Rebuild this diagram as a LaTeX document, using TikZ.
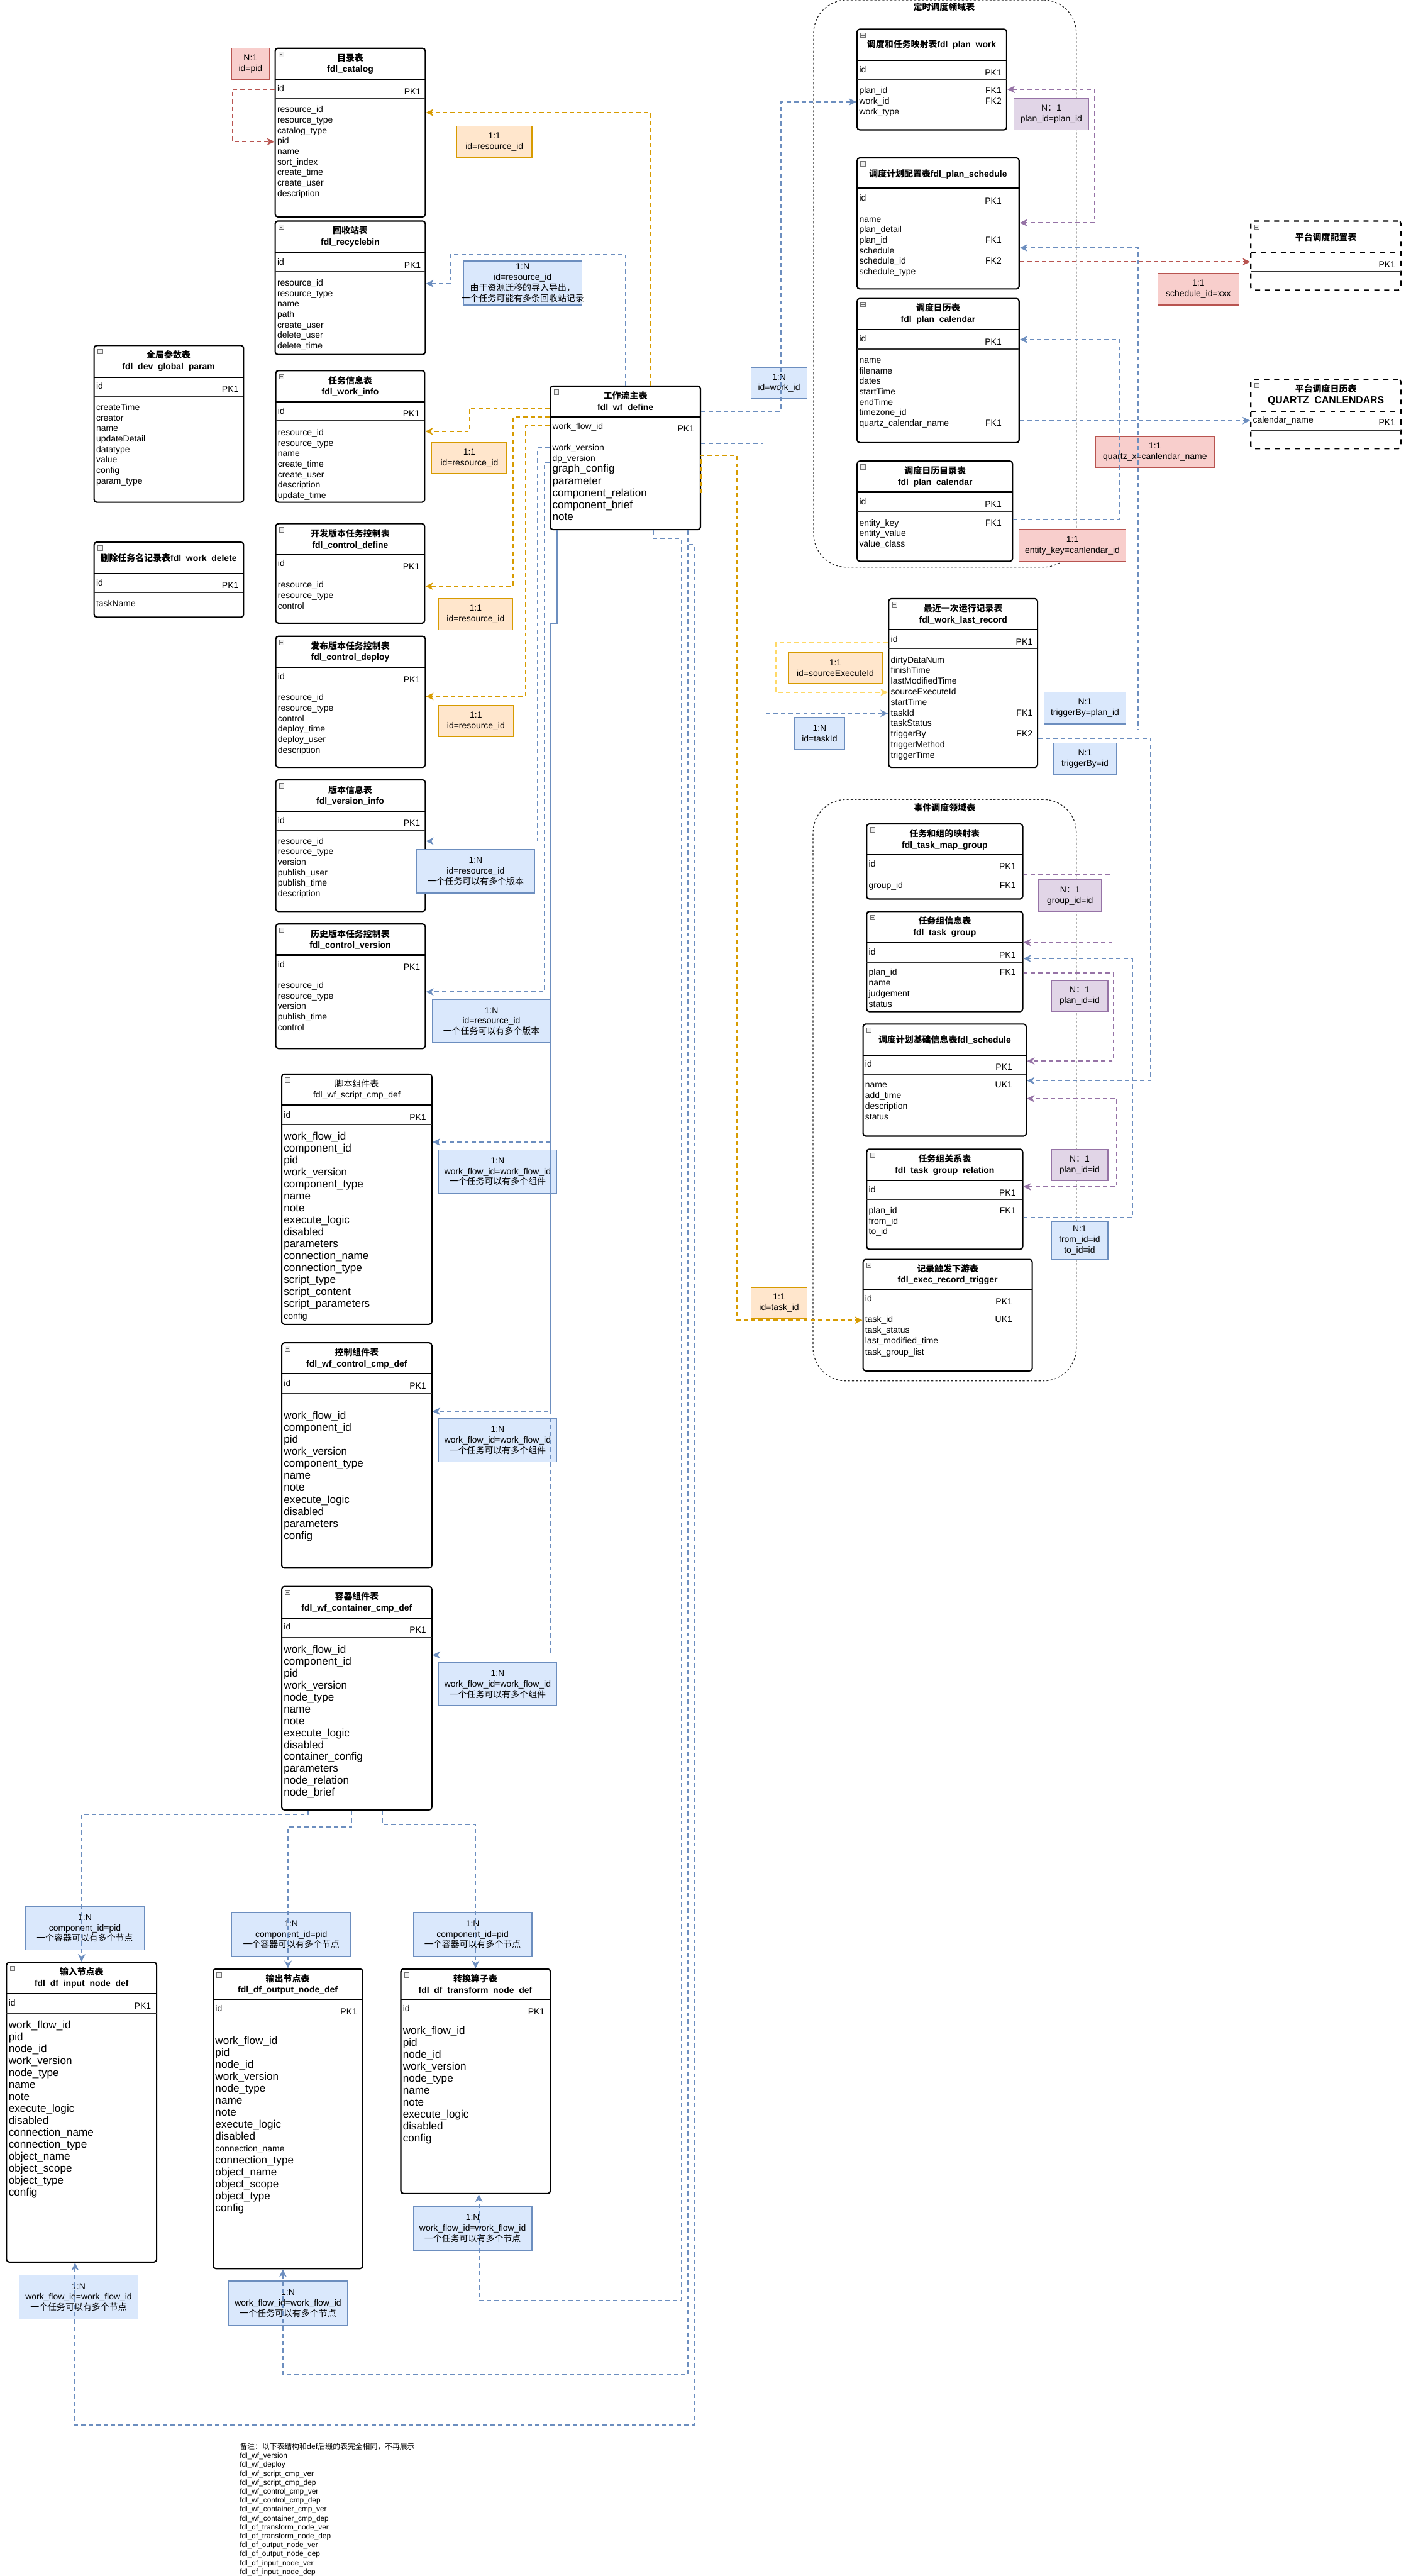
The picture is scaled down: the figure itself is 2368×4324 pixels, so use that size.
\documentclass[tikz,border=0pt]{standalone}
\usepackage{fontspec}
\setmainfont{Liberation Sans}
\newfontfamily\cjk{Noto Sans CJK SC}
\usetikzlibrary{positioning,arrows.meta,fit}

\definecolor{eblue}{HTML}{6C8EBF}
\definecolor{eblueF}{HTML}{DAE8FC}
\definecolor{eorg}{HTML}{D79B00}
\definecolor{eorgF}{HTML}{FFE6CC}
\definecolor{ered}{HTML}{B85450}
\definecolor{eredF}{HTML}{F8CECC}
\definecolor{epur}{HTML}{9673A6}
\definecolor{epurF}{HTML}{E1D5E7}
\definecolor{eyel}{HTML}{FFD966}

\newcommand{\fsm}{\fontsize{5.3pt}{6.4pt}\selectfont}
\newcommand{\fbig}{\fontsize{6.5pt}{7.2pt}\selectfont}
\newcommand{\fttl}{\fontsize{5.3pt}{6.7pt}\selectfont}
\newcommand{\fnote}{\fontsize{4.5pt}{5.4pt}\selectfont}

% table frame: [opt] name, x1, y1, x2, y2, header line, id line
\newcommand{\ertbl}[8][]{%
  \coordinate (#2-nw) at (#3,#4);
  \coordinate (#2-se) at (#5,#6);
  \node[tbl, #1, fit=(#2-nw)(#2-se)] (#2) {};
  \draw[hdr, #1] (#3,#7) -- (#5,#7);
  \draw[idl] (#3,#8) -- (#5,#8);
  \draw[icn] ([shift={(6,6)}]#2-nw) rectangle ++(8,8);
  \draw[black!60, line width=0.3pt] ([shift={(7.5,10)}]#2-nw) -- ++(5,0);
}
% field rows: [style] name, x, first y, step, list
\newcommand{\ertrows}[6][fld]{%
  \foreach \rr [count=\nn from 0] in {#6}{%
    \node[#1, anchor=west] (#2-\nn) at (#3,{#4+\nn*#5}) {\rr};}%
}
% relation label: style, name, x1, y1, x2, y2, text
\newcommand{\ertlbl}[7]{%
  \coordinate (#2-nw) at (#3,#4);
  \coordinate (#2-se) at (#5,#6);
  \node[#1, fit=(#2-nw)(#2-se)] (#2) {};
  \node[lt] (#2-t) at (#2.center) {#7};
}

\begin{document}
\begin{tikzpicture}[
  x=0.36pt, y=-0.36pt,
  tbl/.style={draw, fill=white, line width=0.8pt, rounded corners=1.6pt, inner sep=0pt},
  hdr/.style={line width=0.8pt},
  idl/.style={line width=0.5pt, black!80},
  icn/.style={draw=black!55, fill=black!6, line width=0.3pt},
  ttl/.style={font=\fttl\bfseries, align=center, inner sep=0pt},
  ttlr/.style={font=\fttl, align=center, inner sep=0pt},
  fld/.style={font=\fsm, inner sep=0pt, text height=3.9pt, text depth=1.1pt},
  fldb/.style={font=\fbig, inner sep=0pt, text height=4.8pt, text depth=1.4pt},
  lt/.style={font=\fsm, align=center, inner sep=0pt},
  lblB/.style={draw=eblue, fill=eblueF, line width=0.5pt, inner sep=0pt},
  lblO/.style={draw=eorg, fill=eorgF, line width=0.5pt, inner sep=0pt},
  lblR/.style={draw=ered, fill=eredF, line width=0.5pt, inner sep=0pt},
  lblP/.style={draw=epur, fill=epurF, line width=0.5pt, inner sep=0pt},
  grp/.style={draw=black!85, line width=0.45pt, dash pattern=on 1.2pt off 1.2pt,
              rounded corners=20pt, inner sep=0pt},
  gttl/.style={font=\fsm\bfseries, inner sep=0pt},
  con/.style={line width=0.7pt, dash pattern=on 2.6pt off 1.9pt,
              -{Stealth[length=4.6pt,width=4.4pt,inset=1.3pt]}},
  twoway/.style={{Stealth[length=4.6pt,width=4.4pt,inset=1.3pt]}-{Stealth[length=4.6pt,width=4.4pt,inset=1.3pt]}},
  cB/.style={con, draw=eblue}, cO/.style={con, draw=eorg}, cR/.style={con, draw=ered},
  cP/.style={con, draw=epur}, cY/.style={con, draw=eyel},
]
\useasboundingbox (0,0) rectangle (2368,4324);

% domain frames
\coordinate (dsch-nw) at (1366,0); \coordinate (dsch-se) at (1807,952);
\node[grp, fit=(dsch-nw)(dsch-se)] (dsch) {};
\node[gttl] (dsch-t) at (1585,12) {\cjk 定时调度领域表};
\coordinate (devt-nw) at (1365,1342); \coordinate (devt-se) at (1807,2318);
\node[grp, fit=(devt-nw)(devt-se)] (devt) {};
\node[gttl] (devt-t) at (1586,1356) {\cjk 事件调度领域表};

% ---- tables, left column
\ertbl{cat}{462}{81}{714}{364}{133}{165}
\node[ttl] (cat-t) at (588,107) {{\cjk 目录表}\\fdl\_catalog};
\node[fld, anchor=west] (cat-id) at (465,150) {id};
\node[fld, anchor=east] (cat-pk) at (707,155) {PK1};
\ertrows{cat}{465}{185}{17.6}{resource\_id, resource\_type, catalog\_type, pid, name, sort\_index, create\_time, create\_user, description}

\ertbl{rec}{462}{371}{714}{595}{424}{456}
\node[ttl] (rec-t) at (588,397) {{\cjk 回收站表}\\fdl\_recyclebin};
\node[fld, anchor=west] (rec-id) at (465,441) {id};
\node[fld, anchor=east] (rec-pk) at (707,446) {PK1};
\ertrows{rec}{465}{476}{17.6}{resource\_id, resource\_type, name, path, create\_user, delete\_user, delete\_time}

\ertbl{gp}{158}{580}{409}{843}{633}{665}
\node[ttl] (gp-t) at (283,606) {{\cjk 全局参数表}\\fdl\_dev\_global\_param};
\node[fld, anchor=west] (gp-id) at (161,649) {id};
\node[fld, anchor=east] (gp-pk) at (401,654) {PK1};
\ertrows{gp}{161}{685}{17.6}{createTime, creator, name, updateDetail, datatype, value, config, param\_type}

\ertbl{del}{158}{910}{409}{1036}{963}{995}
\node[ttl] (del-t) at (283,937) {{\cjk 删除任务名记录表}fdl\_work\_delete};
\node[fld, anchor=west] (del-id) at (161,979) {id};
\node[fld, anchor=east] (del-pk) at (401,984) {PK1};
\ertrows{del}{161}{1014}{17.6}{taskName}

\ertbl{wi}{463}{622}{713}{843}{675}{706}
\node[ttl] (wi-t) at (588,648) {{\cjk 任务信息表}\\fdl\_work\_info};
\node[fld, anchor=west] (wi-id) at (466,691) {id};
\node[fld, anchor=east] (wi-pk) at (705,696) {PK1};
\ertrows{wi}{466}{727}{17.6}{resource\_id, resource\_type, name, create\_time, create\_user, description, update\_time}

\ertbl{cd}{463}{879}{713}{1046}{931}{963}
\node[ttl] (cd-t) at (588,905) {{\cjk 开发版本任务控制表}\\fdl\_control\_define};
\node[fld, anchor=west] (cd-id) at (466,947) {id};
\node[fld, anchor=east] (cd-pk) at (705,952) {PK1};
\ertrows{cd}{466}{983}{17.6}{resource\_id, resource\_type, control}

\ertbl{cdp}{463}{1068}{714}{1288}{1120}{1153}
\node[ttl] (cdp-t) at (588,1094) {{\cjk 发布版本任务控制表}\\fdl\_control\_deploy};
\node[fld, anchor=west] (cdp-id) at (466,1137) {id};
\node[fld, anchor=east] (cdp-pk) at (706,1142) {PK1};
\ertrows{cdp}{466}{1172}{17.6}{resource\_id, resource\_type, control, deploy\_time, deploy\_user, description}

\ertbl{vi}{463}{1309}{714}{1530}{1362}{1394}
\node[ttl] (vi-t) at (588,1335) {{\cjk 版本信息表}\\fdl\_version\_info};
\node[fld, anchor=west] (vi-id) at (466,1378) {id};
\node[fld, anchor=east] (vi-pk) at (706,1383) {PK1};
\ertrows{vi}{466}{1413}{17.6}{resource\_id, resource\_type, version, publish\_user, publish\_time, description}

\ertbl{cv}{463}{1551}{714}{1760}{1603}{1635}
\node[ttl] (cv-t) at (588,1577) {{\cjk 历史版本任务控制表}\\fdl\_control\_version};
\node[fld, anchor=west] (cv-id) at (466,1620) {id};
\node[fld, anchor=east] (cv-pk) at (706,1624) {PK1};
\ertrows{cv}{466}{1655}{17.6}{resource\_id, resource\_type, version, publish\_time, control}

% ---- workflow main table
\ertbl{wf}{924}{648}{1176}{889}{700}{732}
\node[ttl] (wf-t) at (1050,674) {{\cjk 工作流主表}\\fdl\_wf\_define};
\node[fld, anchor=west] (wf-id) at (927,717) {work\_flow\_id};
\node[fld, anchor=east] (wf-pk) at (1166,721) {PK1};
\ertrows{wf}{927}{752}{18}{work\_version, dp\_version}
\ertrows[fldb]{wfb}{927}{788}{20.2}{graph\_config, parameter, component\_relation, component\_brief, note}

% ---- component tables
\ertbl{scr}{473}{1803}{725}{2223}{1855}{1888}
\node[ttlr] (scr-t) at (599,1829) {{\cjk 脚本组件表}\\fdl\_wf\_script\_cmp\_def};
\node[fld, anchor=west] (scr-id) at (476,1872) {id};
\node[fld, anchor=east] (scr-pk) at (716,1877) {PK1};
\ertrows[fldb]{scr}{476}{1909}{20}{work\_flow\_id, component\_id, pid, work\_version, component\_type, name, note, execute\_logic, disabled, parameters, connection\_name, connection\_type, script\_type, script\_content, script\_parameters}
\node[fld, anchor=west] (scr-cfg) at (476,2210) {config};

\ertbl{ctl}{473}{2254}{725}{2632}{2306}{2339}
\node[ttl] (ctl-t) at (599,2280) {{\cjk 控制组件表}\\fdl\_wf\_control\_cmp\_def};
\node[fld, anchor=west] (ctl-id) at (476,2323) {id};
\node[fld, anchor=east] (ctl-pk) at (716,2328) {PK1};
\ertrows[fldb]{ctl}{476}{2377}{20.2}{work\_flow\_id, component\_id, pid, work\_version, component\_type, name, note, execute\_logic, disabled, parameters, config}

\ertbl{cnt}{473}{2663}{725}{3038}{2716}{2749}
\node[ttl] (cnt-t) at (599,2690) {{\cjk 容器组件表}\\fdl\_wf\_container\_cmp\_def};
\node[fld, anchor=west] (cnt-id) at (476,2732) {id};
\node[fld, anchor=east] (cnt-pk) at (716,2737) {PK1};
\ertrows[fldb]{cnt}{476}{2770}{20}{work\_flow\_id, component\_id, pid, work\_version, node\_type, name, note, execute\_logic, disabled, container\_config, parameters, node\_relation, node\_brief}

% ---- node tables
\ertbl{inp}{11}{3294}{263}{3797}{3346}{3379}
\node[ttl] (inp-t) at (137,3320) {{\cjk 输入节点表}\\fdl\_df\_input\_node\_def};
\node[fld, anchor=west] (inp-id) at (14,3363) {id};
\node[fld, anchor=east] (inp-pk) at (254,3368) {PK1};
\ertrows[fldb]{inp}{14}{3400}{20.1}{work\_flow\_id, pid, node\_id, work\_version, node\_type, name, note, execute\_logic, disabled, connection\_name, connection\_type, object\_name, object\_scope, object\_type, config}

\ertbl{outp}{358}{3305}{609}{3808}{3356}{3389}
\node[ttl] (outp-t) at (483,3331) {{\cjk 输出节点表}\\fdl\_df\_output\_node\_def};
\node[fld, anchor=west] (outp-id) at (361,3373) {id};
\node[fld, anchor=east] (outp-pk) at (600,3378) {PK1};
\ertrows[fldb]{outp}{361}{3427}{20}{work\_flow\_id, pid, node\_id, work\_version, node\_type, name, note, execute\_logic, disabled, {\fsm connection\_name}, connection\_type, object\_name, object\_scope, object\_type, config}

\ertbl{trf}{673}{3305}{924}{3682}{3356}{3389}
\node[ttl] (trf-t) at (798,3331) {{\cjk 转换算子表}\\fdl\_df\_transform\_node\_def};
\node[fld, anchor=west] (trf-id) at (676,3373) {id};
\node[fld, anchor=east] (trf-pk) at (915,3378) {PK1};
\ertrows[fldb]{trf}{676}{3410}{20}{work\_flow\_id, pid, node\_id, work\_version, node\_type, name, note, execute\_logic, disabled, config}

% ---- schedule domain
\ertbl{pw}{1439}{49}{1690}{218}{101}{134}
\node[ttl] (pw-t) at (1564,75) {{\cjk 调度和任务映射表}fdl\_plan\_work};
\node[fld, anchor=west] (pw-id) at (1442,118) {id};
\node[fld, anchor=east] (pw-pk) at (1682,123) {PK1};
\ertrows{pw}{1442}{153}{18}{plan\_id, work\_id, work\_type}
\node[fld, anchor=east] (pw-fk1) at (1682,153) {FK1};
\node[fld, anchor=east] (pw-fk2) at (1682,171) {FK2};

\ertbl{ps}{1439}{265}{1711}{485}{316}{349}
\node[ttl] (ps-t) at (1575,292) {{\cjk 调度计划配置表}fdl\_plan\_schedule};
\node[fld, anchor=west] (ps-id) at (1442,333) {id};
\node[fld, anchor=east] (ps-pk) at (1682,339) {PK1};
\ertrows{ps}{1442}{369}{17.6}{name, plan\_detail, plan\_id, schedule, schedule\_id, schedule\_type}
\node[fld, anchor=east] (ps-fk1) at (1682,404) {FK1};
\node[fld, anchor=east] (ps-fk2) at (1682,439) {FK2};

\ertbl{pc}{1439}{501}{1711}{743}{553}{586}
\node[ttl] (pc-t) at (1575,527) {{\cjk 调度日历表}\\fdl\_plan\_calendar};
\node[fld, anchor=west] (pc-id) at (1442,570) {id};
\node[fld, anchor=east] (pc-pk) at (1682,575) {PK1};
\ertrows{pc}{1442}{606}{17.5}{name, filename, dates, startTime, endTime, timezone\_id, quartz\_calendar\_name}
\node[fld, anchor=east] (pc-fk1) at (1682,711) {FK1};

\ertbl{pcd}{1439}{774}{1700}{942}{826}{859}
\node[ttl] (pcd-t) at (1570,800) {{\cjk 调度日历目录表}\\fdl\_plan\_calendar};
\node[fld, anchor=west] (pcd-id) at (1442,843) {id};
\node[fld, anchor=east] (pcd-pk) at (1682,848) {PK1};
\ertrows{pcd}{1442}{879}{17.5}{entity\_key, entity\_value, value\_class}
\node[fld, anchor=east] (pcd-fk1) at (1682,879) {FK1};

\ertbl[dashed]{psc}{2100}{371}{2352}{487}{424}{456}
\node[ttl] (psc-t) at (2226,398) {\cjk 平台调度配置表};
\node[fld, anchor=east] (psc-pk) at (2343,445) {PK1};

\ertbl[dashed]{qz}{2100}{637}{2352}{753}{690}{722}
\node[ttl] (qz-t) at (2226,663) {{\cjk 平台调度日历表}\\{\fontsize{6pt}{7pt}\selectfont QUARTZ\_CANLENDARS}};
\node[fld, anchor=west] (qz-0) at (2103,706) {calendar\_name};
\node[fld, anchor=east] (qz-pk) at (2343,710) {PK1};

\ertbl{lr}{1492}{1005}{1742}{1288}{1057}{1089}
\node[ttl] (lr-t) at (1617,1031) {{\cjk 最近一次运行记录表}\\fdl\_work\_last\_record};
\node[fld, anchor=west] (lr-id) at (1495,1074) {id};
\node[fld, anchor=east] (lr-pk) at (1734,1079) {PK1};
\ertrows{lr}{1495}{1109}{17.7}{dirtyDataNum, finishTime, lastModifiedTime, sourceExecuteId, startTime, taskId, taskStatus, triggerBy, triggerMethod, triggerTime}
\node[fld, anchor=east] (lr-fk1) at (1734,1197.5) {FK1};
\node[fld, anchor=east] (lr-fk2) at (1734,1233) {FK2};

% ---- event domain
\ertbl{tmg}{1455}{1383}{1717}{1509}{1435}{1467}
\node[ttl] (tmg-t) at (1586,1409) {{\cjk 任务和组的映射表}\\fdl\_task\_map\_group};
\node[fld, anchor=west] (tmg-id) at (1458,1451) {id};
\node[fld, anchor=east] (tmg-pk) at (1706,1456) {PK1};
\ertrows{tmg}{1458}{1487}{18}{group\_id}
\node[fld, anchor=east] (tmg-fk1) at (1706,1487) {FK1};

\ertbl{tg}{1455}{1530}{1717}{1698}{1582}{1615}
\node[ttl] (tg-t) at (1586,1556) {{\cjk 任务组信息表}\\fdl\_task\_group};
\node[fld, anchor=west] (tg-id) at (1458,1599) {id};
\node[fld, anchor=east] (tg-pk) at (1706,1604) {PK1};
\ertrows{tg}{1458}{1633}{18}{plan\_id, name, judgement, status}
\node[fld, anchor=east] (tg-fk1) at (1706,1633) {FK1};

\ertbl{sch}{1449}{1719}{1723}{1907}{1771}{1804}
\node[ttl] (sch-t) at (1586,1745) {{\cjk 调度计划基础信息表}fdl\_schedule};
\node[fld, anchor=west] (sch-id) at (1452,1787) {id};
\node[fld, anchor=east] (sch-pk) at (1700,1792) {PK1};
\ertrows{sch}{1452}{1822}{18}{name, add\_time, description, status}
\node[fld, anchor=east] (sch-uk1) at (1700,1822) {UK1};

\ertbl{tgr}{1455}{1929}{1717}{2097}{1981}{2014}
\node[ttl] (tgr-t) at (1586,1955) {{\cjk 任务组关系表}\\fdl\_task\_group\_relation};
\node[fld, anchor=west] (tgr-id) at (1458,1998) {id};
\node[fld, anchor=east] (tgr-pk) at (1706,2003) {PK1};
\ertrows{tgr}{1458}{2033}{17.5}{plan\_id, from\_id, to\_id}
\node[fld, anchor=east] (tgr-fk1) at (1706,2033) {FK1};

\ertbl{ert}{1449}{2114}{1733}{2301}{2164}{2197}
\node[ttl] (ert-t) at (1591,2139) {{\cjk 记录触发下游表}\\fdl\_exec\_record\_trigger};
\node[fld, anchor=west] (ert-id) at (1452,2181) {id};
\node[fld, anchor=east] (ert-pk) at (1700,2186) {PK1};
\ertrows{ert}{1452}{2216}{18}{task\_id, task\_status, last\_modified\_time, task\_group\_list}
\node[fld, anchor=east] (ert-uk1) at (1700,2216) {UK1};

% ---- relation labels
\ertlbl{lblR}{lpid}{389}{81}{452}{134}{N:1\\id=pid}
\ertlbl{lblO}{lcat}{767}{212}{893}{265}{1:1\\id=resource\_id}
\ertlbl{lblB}{lrec}{778}{438}{977}{512}{1:N\\id=resource\_id\\{\cjk 由于资源迁移的导入导出，}\\{\cjk 一个任务可能有多条回收站记录}}
\ertlbl{lblO}{lwi}{725}{743}{851}{795}{1:1\\id=resource\_id}
\ertlbl{lblO}{lcd}{736}{1005}{861}{1057}{1:1\\id=resource\_id}
\ertlbl{lblO}{lcdp}{736}{1184}{862}{1236}{1:1\\id=resource\_id}
\ertlbl{lblB}{lvi}{699}{1426}{898}{1499}{1:N\\id=resource\_id\\{\cjk 一个任务可以有多个版本}}
\ertlbl{lblB}{lcv}{726}{1678}{924}{1750}{1:N\\id=resource\_id\\{\cjk 一个任务可以有多个版本}}
\ertlbl{lblB}{lscr}{736}{1930}{935}{2003}{1:N\\work\_flow\_id=work\_flow\_id\\{\cjk 一个任务可以有多个组件}}
\ertlbl{lblB}{lctl}{736}{2381}{935}{2454}{1:N\\work\_flow\_id=work\_flow\_id\\{\cjk 一个任务可以有多个组件}}
\ertlbl{lblB}{lcnt}{736}{2791}{935}{2863}{1:N\\work\_flow\_id=work\_flow\_id\\{\cjk 一个任务可以有多个组件}}
\ertlbl{lblB}{linp}{43}{3200}{242}{3273}{1:N\\component\_id=pid\\{\cjk 一个容器可以有多个节点}}
\ertlbl{lblB}{loutp}{389}{3210}{589}{3284}{1:N\\component\_id=pid\\{\cjk 一个容器可以有多个节点}}
\ertlbl{lblB}{ltrf}{694}{3210}{893}{3284}{1:N\\component\_id=pid\\{\cjk 一个容器可以有多个节点}}
\ertlbl{lblB}{linp2}{32}{3819}{232}{3893}{1:N\\work\_flow\_id=work\_flow\_id\\{\cjk 一个任务可以有多个节点}}
\ertlbl{lblB}{loutp2}{384}{3829}{583}{3903}{1:N\\work\_flow\_id=work\_flow\_id\\{\cjk 一个任务可以有多个节点}}
\ertlbl{lblB}{ltrf2}{694}{3704}{893}{3777}{1:N\\work\_flow\_id=work\_flow\_id\\{\cjk 一个任务可以有多个节点}}
\ertlbl{lblB}{lwork}{1261}{617}{1355}{669}{1:N\\id=work\_id}
\ertlbl{lblP}{lpw}{1702}{165}{1828}{218}{N{\cjk ：}1\\plan\_id=plan\_id}
\ertlbl{lblR}{lsid}{1944}{459}{2080}{512}{1:1\\schedule\_id=xxx}
\ertlbl{lblR}{lqz}{1839}{733}{2039}{785}{1:1\\quartz\_x=canlendar\_name}
\ertlbl{lblR}{lpcd}{1711}{889}{1890}{942}{1:1\\entity\_key=canlendar\_id}
\ertlbl{lblO}{lsrc}{1324}{1095}{1481}{1147}{1:1\\id=sourceExecuteId}
\ertlbl{lblB}{ltask}{1334}{1204}{1418}{1258}{1:N\\id=taskId}
\ertlbl{lblB}{ltrg}{1753}{1162}{1890}{1215}{N:1\\triggerBy=plan\_id}
\ertlbl{lblB}{ltrg2}{1769}{1247}{1874}{1300}{N:1\\triggerBy=id}
\ertlbl{lblP}{lgrp}{1744}{1477}{1849}{1530}{N{\cjk ：}1\\group\_id=id}
\ertlbl{lblP}{lpl1}{1765}{1646}{1860}{1698}{N{\cjk ：}1\\plan\_id=id}
\ertlbl{lblP}{lpl2}{1765}{1929}{1860}{1982}{N{\cjk ：}1\\plan\_id=id}
\ertlbl{lblB}{lft}{1765}{2050}{1860}{2114}{N:1\\from\_id=id\\to\_id=id}
\ertlbl{lblO}{ltid}{1261}{2161}{1355}{2213}{1:1\\id=task\_id}

% ---- connectors
\draw[cR] (cat.west |- cat-id) -- (390,150) |- (cat.west |- cat-3);
\draw[cO] (wf.north -| 1093,0) |- (cat.east |- 0,189);
\draw[cB] (wf.north -| 1050,0) |- (757,427) |- (rec.east |- rec-0);
\draw[cO] (wf.west |- 0,685) -| (788,724) -- (wi.east |- 0,724);
\draw[cO] (wf.west |- 0,700) -| (861,984) -- (cd.east |- 0,984);
\draw[cO] (wf.west |- 0,715) -| (882,1169) -- (cdp.east |- 0,1169);
\draw[cB] (wf.west |- 0,752) -| (903,1412) -- (vi.east |- 0,1412);
\draw[cB] (wf.west |- 0,776) -| (914,1665) -- (cv.east |- 0,1665);
\draw[cB] (wf.south -| 935,0) |- (924,1046) -- (924,1917) -- (scr.east |- 0,1917);
\draw[cB, dash phase=2.25pt] (wf.south -| 935,0) |- (924,1046) -- (924,2369) -- (ctl.east |- 0,2369);
\draw[cB] (wf.south -| 935,0) |- (924,1046) -- (924,2778) -- (cnt.east |- 0,2778);
\draw[cB] (wf.east |- 0,690) -| (1311,171) -- (pw.west |- pw-1);
\draw[cB] (wf.east |- 0,744) -| (1281,1197.5) -- (lr.west |- lr-5);
\draw[cO] (wf.east |- 0,828) |- (1237,764) |- (ert.west |- ert-0);
\draw[cP, twoway] (pw.east |- 0,150) -| (1838,374) -- (ps.east |- 0,374);
\draw[cR] (ps.east |- ps-4) -- (psc.west |- ps-4);
\draw[cB] (lr.east |- 0,1225) -| (1911,416) -- (ps.east |- 0,416);
\draw[cB] (pc.east |- qz-0) -- (qz.west |- qz-0);
\draw[cB] (pcd.east |- 0,872) -| (1880,570) -- (pc.east |- 0,570);
\draw[cY] (lr.west |- 0,1079) -- (1303,1079) |- (lr.west |- lr-3);
\draw[cB] (lr.east |- 0,1239) -| (1932,1814) -- (sch.east |- 0,1814);
\draw[cP] (tmg.east |- 0,1467) -| (1867,1582) -- (tg.east |- 0,1582);
\draw[cB] (tgr.east |- 0,2044) -| (1901,1609) -- (tg.east |- 0,1609);
\draw[cP] (tg.east |- tg-0) -| (1869,1781) -- (sch.east |- 0,1781);
\draw[cP, twoway] (tgr.east |- 0,1992) -| (1875,1844) -- (sch.east |- 0,1844);
\draw[cB] (cnt.south -| 517,0) |- (inp.north |- 0,3046) -- (inp.north);
\draw[cB] (cnt.south -| 590,0) |- (outp.north |- 0,3067) -- (outp.north);
\draw[cB] (cnt.south -| 642,0) |- (trf.north |- 0,3062) -- (trf.north);
\draw[cB] (wf.south -| 1097,0) |- (1144,904) |- (804,3861) -- (trf.south -| 804,0);
\draw[cB] (wf.south -| 1155,0) |- (475,3986) -- (outp.south -| 475,0);
\draw[cB] (wf.south -| 1155,0) |- (1165,914) |- (126,4071) -- (inp.south -| 126,0);

% ---- note
\node[font=\fnote, align=left, inner sep=0pt, anchor=north west] (memo) at (402,4100)
  {{\cjk 备注：以下表结构和def后缀的表完全相同，不再展示}\\fdl\_wf\_version\\fdl\_wf\_deploy\\
   fdl\_wf\_script\_cmp\_ver\\fdl\_wf\_script\_cmp\_dep\\fdl\_wf\_control\_cmp\_ver\\
   fdl\_wf\_control\_cmp\_dep\\fdl\_wf\_container\_cmp\_ver\\fdl\_wf\_container\_cmp\_dep\\
   fdl\_df\_transform\_node\_ver\\fdl\_df\_transform\_node\_dep\\fdl\_df\_output\_node\_ver\\
   fdl\_df\_output\_node\_dep\\fdl\_df\_input\_node\_ver\\fdl\_df\_input\_node\_dep};
\end{tikzpicture}
\end{document}
